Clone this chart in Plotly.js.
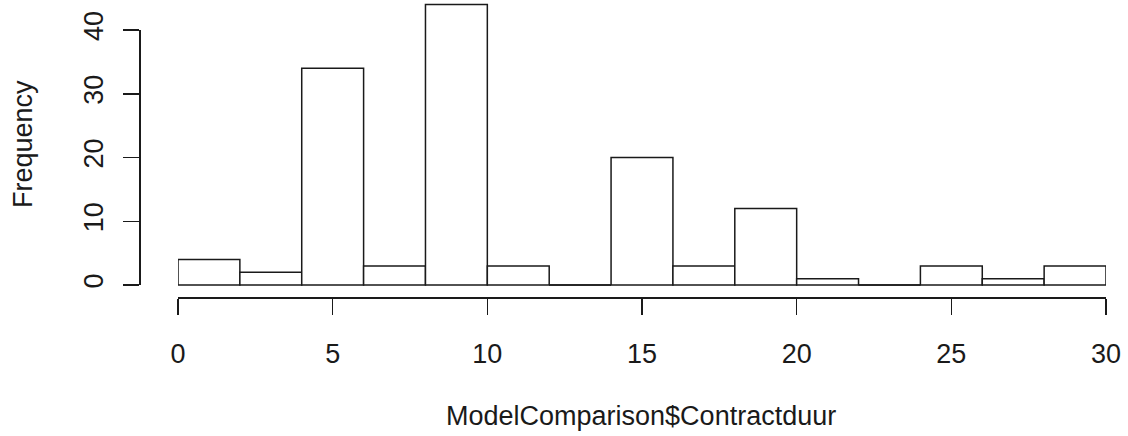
<!DOCTYPE html>
<html>
<head>
<meta charset="utf-8">
<script src="https://cdn.plot.ly/plotly-3.0.1.min.js"></script>
<style>
  html, body { margin: 0; padding: 0; background: #fff; }
  #chart { width: 1128px; height: 436px; }
</style>
</head>
<body>
<div id="chart"></div>
<script>
// Histogram of ModelComparison$Contractduur (bins of width 2)
var binStarts = [0, 2, 4, 6, 8, 10, 12, 14, 16, 18, 20, 22, 24, 26, 28];
var binWidth = 2;
var counts = [4, 2, 34, 3, 44, 3, 0, 20, 3, 12, 1, 0, 3, 1, 3];
var xTicks = [0, 5, 10, 15, 20, 25, 30];
var yTicks = [0, 10, 20, 30, 40];
var xTitle = "ModelComparison$Contractduur";
var yTitle = "Frequency";

var W = 1128, H = 436;
var ink = "#1a1a1a";
var fontFam = "Liberation Sans, Arial, sans-serif";
var fs = 27;

var centers = binStarts.map(function (s) { return s + binWidth / 2; });

// bars live on a hidden y axis that spans the whole plot region (so the tallest bar is not clipped)
var barTrace = {
  type: "bar",
  x: centers,
  y: counts,
  width: binWidth,
  xaxis: "x",
  yaxis: "y2",
  marker: { color: "#ffffff", line: { color: ink, width: 1.5 } },
  hoverinfo: "x+y"
};

// transparent copy on the visible Frequency axis, so that axis gets drawn
var axisTrace = {
  type: "bar",
  x: centers,
  y: counts,
  width: binWidth,
  xaxis: "x",
  yaxis: "y",
  opacity: 0,
  marker: { color: "rgba(0,0,0,0)", line: { width: 0 } },
  hoverinfo: "skip"
};

// zero-count bins are drawn by R as a flat rectangle on the baseline
var shapes = [];
binStarts.forEach(function (s, i) {
  if (counts[i] === 0) {
    shapes.push({ type: "line", xref: "x", yref: "y2", x0: s, x1: s + binWidth, y0: 0, y1: 0,
                  line: { color: ink, width: 1.5 } });
  }
});

// pixel geometry of the R plot
var x0px = 178, x30px = 1106;   // x = 0 and x = 30
var y0px = 285, y40px = 30;     // y = 0 and y = 40
var xAxisPx = 297, yAxisPx = 139;
var pxPerUnit = (y0px - y40px) / 40;

var layout = {
  width: W, height: H,
  margin: { l: 0, r: 0, t: 0, b: 0, pad: 0 },
  paper_bgcolor: "#ffffff",
  plot_bgcolor: "rgba(0,0,0,0)",
  showlegend: false,
  bargap: 0,
  barmode: "overlay",
  font: { family: fontFam, size: fs, color: ink },
  xaxis: {
    domain: [x0px / W, x30px / W],
    range: [0, 30],
    anchor: "free",
    position: (H - xAxisPx) / H,
    tickmode: "array",
    tickvals: xTicks,
    ticktext: xTicks.map(String),
    ticks: "outside",
    ticklen: 16,
    tickwidth: 1.5,
    tickcolor: ink,
    showline: true,
    linecolor: ink,
    linewidth: 1.5,
    showgrid: false,
    zeroline: false,
    ticklabelstandoff: 16,
    tickfont: { family: fontFam, size: fs, color: ink },
    fixedrange: true
  },
  yaxis: {
    domain: [(H - y0px) / H, (H - y40px) / H],
    range: [0, 40],
    anchor: "free",
    position: yAxisPx / W,
    tickmode: "array",
    tickvals: yTicks,
    ticktext: yTicks.map(String),
    tickangle: -90,
    ticks: "outside",
    ticklen: 16,
    tickwidth: 1.5,
    tickcolor: ink,
    showline: true,
    linecolor: ink,
    linewidth: 1.5,
    showgrid: false,
    zeroline: false,
    ticklabelstandoff: 9,
    tickfont: { family: fontFam, size: fs, color: ink },
    fixedrange: true
  },
  yaxis2: {
    domain: [(H - xAxisPx) / H, 1],
    range: [-(xAxisPx - y0px) / pxPerUnit, y0px / pxPerUnit],
    anchor: "x",
    visible: false,
    showgrid: false,
    zeroline: false,
    fixedrange: true
  },
  shapes: shapes,
  annotations: [
    { text: xTitle, xref: "paper", yref: "paper", x: 641 / W, y: (H - 416) / H,
      xanchor: "center", yanchor: "middle", showarrow: false,
      font: { family: fontFam, size: fs, color: ink } },
    { text: yTitle, xref: "paper", yref: "paper", x: 23 / W, y: (H - 144) / H,
      xanchor: "center", yanchor: "middle", textangle: -90, showarrow: false,
      font: { family: fontFam, size: fs, color: ink } }
  ]
};

Plotly.newPlot("chart", [axisTrace, barTrace], layout, { displayModeBar: false, staticPlot: true });
</script>
</body>
</html>
